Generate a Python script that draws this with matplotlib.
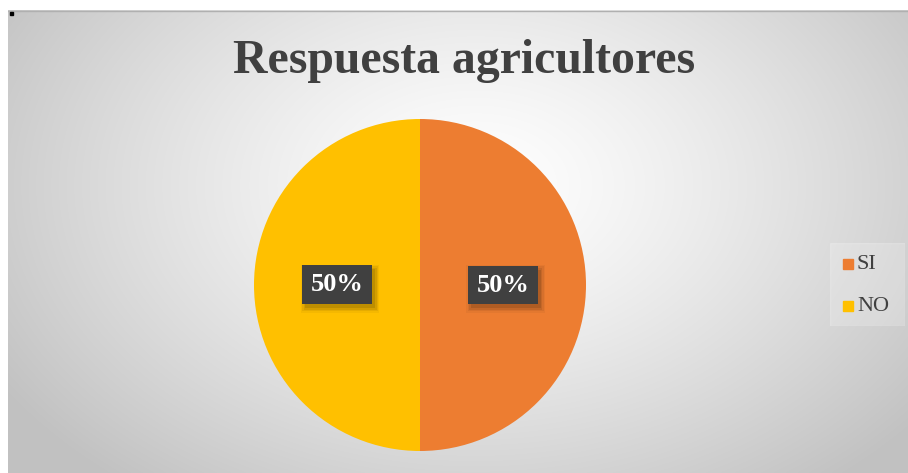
import numpy as np
import matplotlib.pyplot as plt
from matplotlib.patches import Rectangle

# chart data
labels = ["SI", "NO"]
values = [50, 50]
colors = ["#ED7D31", "#FFC000"]
title = "Respuesta agricultores"

W, H = 908, 473
fig = plt.figure(figsize=(W / 100, H / 100), dpi=100)
fig.patch.set_facecolor("white")

# chart area with radial gray gradient
x0 = 8 / W
bg = fig.add_axes([x0, 0.0, 1 - x0, 1 - 10 / H])
bg.set_axis_off()
yy, xx = np.mgrid[0:1:300j, 0:1:600j]
r = np.sqrt((xx - 0.52) ** 2 + ((yy - 0.38) * 0.75) ** 2)
r = np.clip(r / 0.62, 0, 1)
shade = 1.0 - 0.24 * r ** 1.3
img = np.dstack([shade, shade, shade])
bg.imshow(img, extent=[0, 1, 1, 0], aspect="auto", interpolation="bilinear")
bg.set_xlim(0, 1)
bg.set_ylim(1, 0)
bg.plot([0, 1], [0.002, 0.002], color="#b0b0b0", lw=1)

# small mark at top-left corner
fig.patches.append(Rectangle((10 / W, 1 - 15 / H), 3 / W, 3 / H,
                             transform=fig.transFigure, color="black"))

fig.text(464 / W, 1 - 61 / H, title, ha="center", va="center",
         fontsize=34.4, fontweight="bold", family="Liberation Serif", color="#404040")

# pie
cx, cy, rad = 420, 285, 166
ax = fig.add_axes([(cx - rad) / W, 1 - (cy + rad) / H, 2 * rad / W, 2 * rad / H])
wedges, _ = ax.pie(values, colors=colors, startangle=90, counterclock=False,
                   radius=1.0, wedgeprops=dict(linewidth=0))
ax.set_xlim(-1, 1)
ax.set_ylim(-1, 1)
ax.set_aspect("equal")

ppu = rad  # pixels per data unit
bw, bh = 70 / ppu, 39 / ppu
total = sum(values)
for w, v in zip(wedges, values):
    ang = np.deg2rad((w.theta1 + w.theta2) / 2)
    px, py = 0.5 * np.cos(ang), 0.5 * np.sin(ang)
    # soft shadow
    for k, a in zip(range(4), [0.10, 0.08, 0.06, 0.04]):
        g = k * 1.5 / ppu
        ax.add_patch(Rectangle((px - bw / 2 + 3 / ppu - g, py - bh / 2 - 4 / ppu - g),
                               bw + 2 * g, bh + 2 * g, color="black", alpha=a, lw=0))
    ax.add_patch(Rectangle((px - bw / 2, py - bh / 2), bw, bh, color="#404040", lw=0))
    ax.text(px, py, "%d%%" % round(100 * v / total), ha="center", va="center",
            fontsize=19, fontweight="bold", family="Liberation Serif", color="white")

# legend
lg = fig.add_axes([830 / W, 1 - 326 / H, 75 / W, 83 / H])
lg.set_xlim(0, 75)
lg.set_ylim(83, 0)
lg.set_axis_off()
lg.add_patch(Rectangle((0, 0), 75, 83, color="white", alpha=0.2))
for i, (lab, c) in enumerate(zip(labels, colors)):
    yc = 21 + i * 42
    lg.add_patch(Rectangle((13, yc - 5), 10, 10, color=c))
    lg.text(27, yc, lab, va="center", ha="left", fontsize=16,
            family="Liberation Serif", color="#404040")

fig.savefig("out.png", dpi=100, facecolor=fig.get_facecolor())
